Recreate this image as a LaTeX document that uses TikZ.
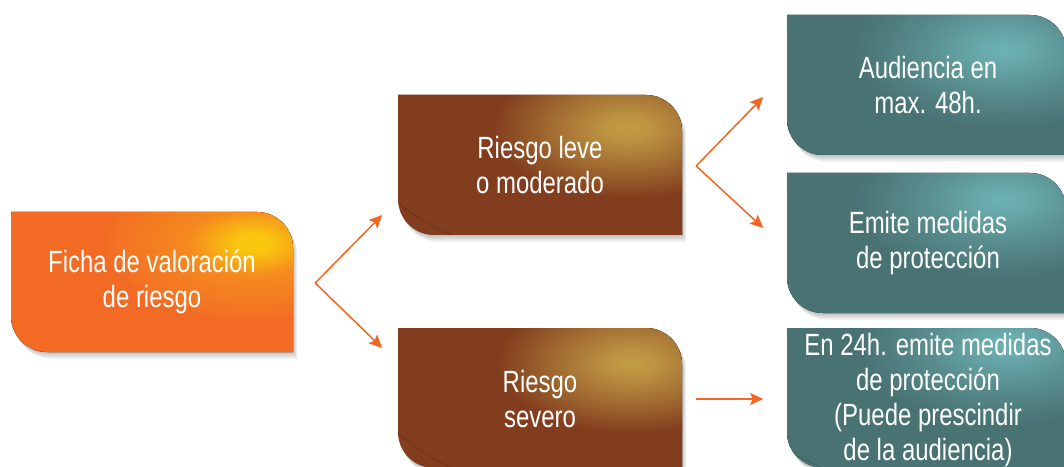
\documentclass[tikz,border=0pt]{standalone}
\usepackage{fontspec}
\newfontfamily\cond[FakeStretch=0.78]{Liberation Sans}
\usetikzlibrary{arrows.meta}
\definecolor{orbase}{HTML}{F26A24}
\definecolor{ormid}{HTML}{F5891F}
\definecolor{oryel}{HTML}{F9C50E}
\definecolor{brbase}{HTML}{823D1E}
\definecolor{brhi}{HTML}{C29C45}
\definecolor{tlbase}{HTML}{497273}
\definecolor{tlhi}{HTML}{6DB1B3}
\definecolor{arr}{HTML}{F26522}
\pgfdeclareradialshading{orglow}{\pgfpoint{0bp}{0bp}}{color(0bp)=(oryel); color(1.5bp)=(oryel); color(5.5bp)=(ormid); color(11.5bp)=(orbase!75!ormid); color(12.5bp)=(orbase); color(50bp)=(orbase)}
\pgfdeclareradialshading{brglow}{\pgfpoint{0bp}{0bp}}{color(0bp)=(brhi); color(2bp)=(brhi!92!brbase); color(7bp)=(brhi!50!brbase); color(12.5bp)=(brbase); color(50bp)=(brbase)}
\pgfdeclareradialshading{tlglow}{\pgfpoint{0bp}{0bp}}{color(0bp)=(tlhi); color(1.5bp)=(tlhi!92!tlbase); color(6.5bp)=(tlhi!45!tlbase); color(12.5bp)=(tlbase); color(50bp)=(tlbase)}
\newcommand\shp[4]{(#1,#4) -- ({#3-36},#4) arc[start angle=90,end angle=0,radius=36pt] -- (#3,#2) -- ({#1+36},#2) arc[start angle=270,end angle=180,radius=36pt] -- cycle}
% l b r t base shading hx hy rx
\newcommand\fancybox[9]{%
  \foreach \s in {1,2,...,8}{\fill[black,opacity=0.03,shift={(\s*0.55,-\s*0.9)}] \shp{#1}{#2}{#3}{#4};}
  \fill[#5] \shp{#1}{#2}{#3}{#4};
  \begin{scope}
    \clip \shp{#1}{#2}{#3}{#4};
    \fill[shading=#6] (#7,#8) ellipse[x radius={2*#9}, y radius={#9*1.04}];
  \end{scope}}
\tikzset{
  lbl/.style={text=white,align=center,font=\cond\fontsize{30.7}{35}\selectfont,inner sep=0pt},
  conn/.style={draw=arr,line width=1.5pt,-{Stealth[length=13pt,width=12pt,inset=2.5pt]}}
}
\begin{document}
\begin{tikzpicture}[x=1pt,y=1pt]
\useasboundingbox (0,0) rectangle (1064,466);
\fill[white] (0,0) rectangle (1064,466);
% boxes
\fancybox{11}{114}{293}{254}{orbase}{orglow}{253}{223}{150}
\fancybox{398}{231}{682}{371}{brbase}{brglow}{627}{338}{135}
\fancybox{398}{-2}{682}{138}{brbase}{brglow}{632}{103}{135}
\fancybox{787}{311}{1066}{451}{tlbase}{tlglow}{1003}{416}{150}
\fancybox{787}{153}{1066}{293}{tlbase}{tlglow}{1003}{266}{150}
\fancybox{787}{-2}{1066}{138}{tlbase}{tlglow}{1008}{121}{150}
% labels
\node[lbl,minimum width=282pt,minimum height=140pt] (a) at (152,184) {Ficha de valoración\\de riesgo};
\node[lbl,minimum width=284pt,minimum height=140pt] (b) at (540,301) {Riesgo leve\\o moderado};
\node[lbl,minimum width=284pt,minimum height=140pt] (c) at (540,67) {Riesgo\\severo};
\node[lbl,minimum width=279pt,minimum height=140pt] (d) at (928,381) {Audiencia en\\max. 48h.};
\node[lbl,minimum width=279pt,minimum height=140pt] (e) at (928,223) {Emite medidas\\de protección};
\node[lbl,minimum width=279pt,minimum height=140pt] (f) at (928,66) {En 24h. emite medidas\\de protección\\(Puede prescindir\\de la audiencia)};
% connectors
\coordinate (f1) at ([xshift=22pt,yshift=-1pt]a.east);
\coordinate (t1) at ([shift={(67,68)}]f1);
\coordinate (t2) at ([shift={(67,-65)}]f1);
\coordinate (f2) at ([xshift=14pt,yshift=-1pt]b.east);
\coordinate (t3) at ([shift={(67,69)}]f2);
\coordinate (t4) at ([shift={(67,-62)}]f2);
\coordinate (f3) at ([xshift=14pt]c.east);
\coordinate (t5) at ([xshift=67pt]f3);
\draw[conn] (f1) -- (t1);
\draw[conn] (f1) -- (t2);
\draw[conn] (f2) -- (t3);
\draw[conn] (f2) -- (t4);
\draw[conn] (f3) -- (t5);
\end{tikzpicture}
\end{document}
